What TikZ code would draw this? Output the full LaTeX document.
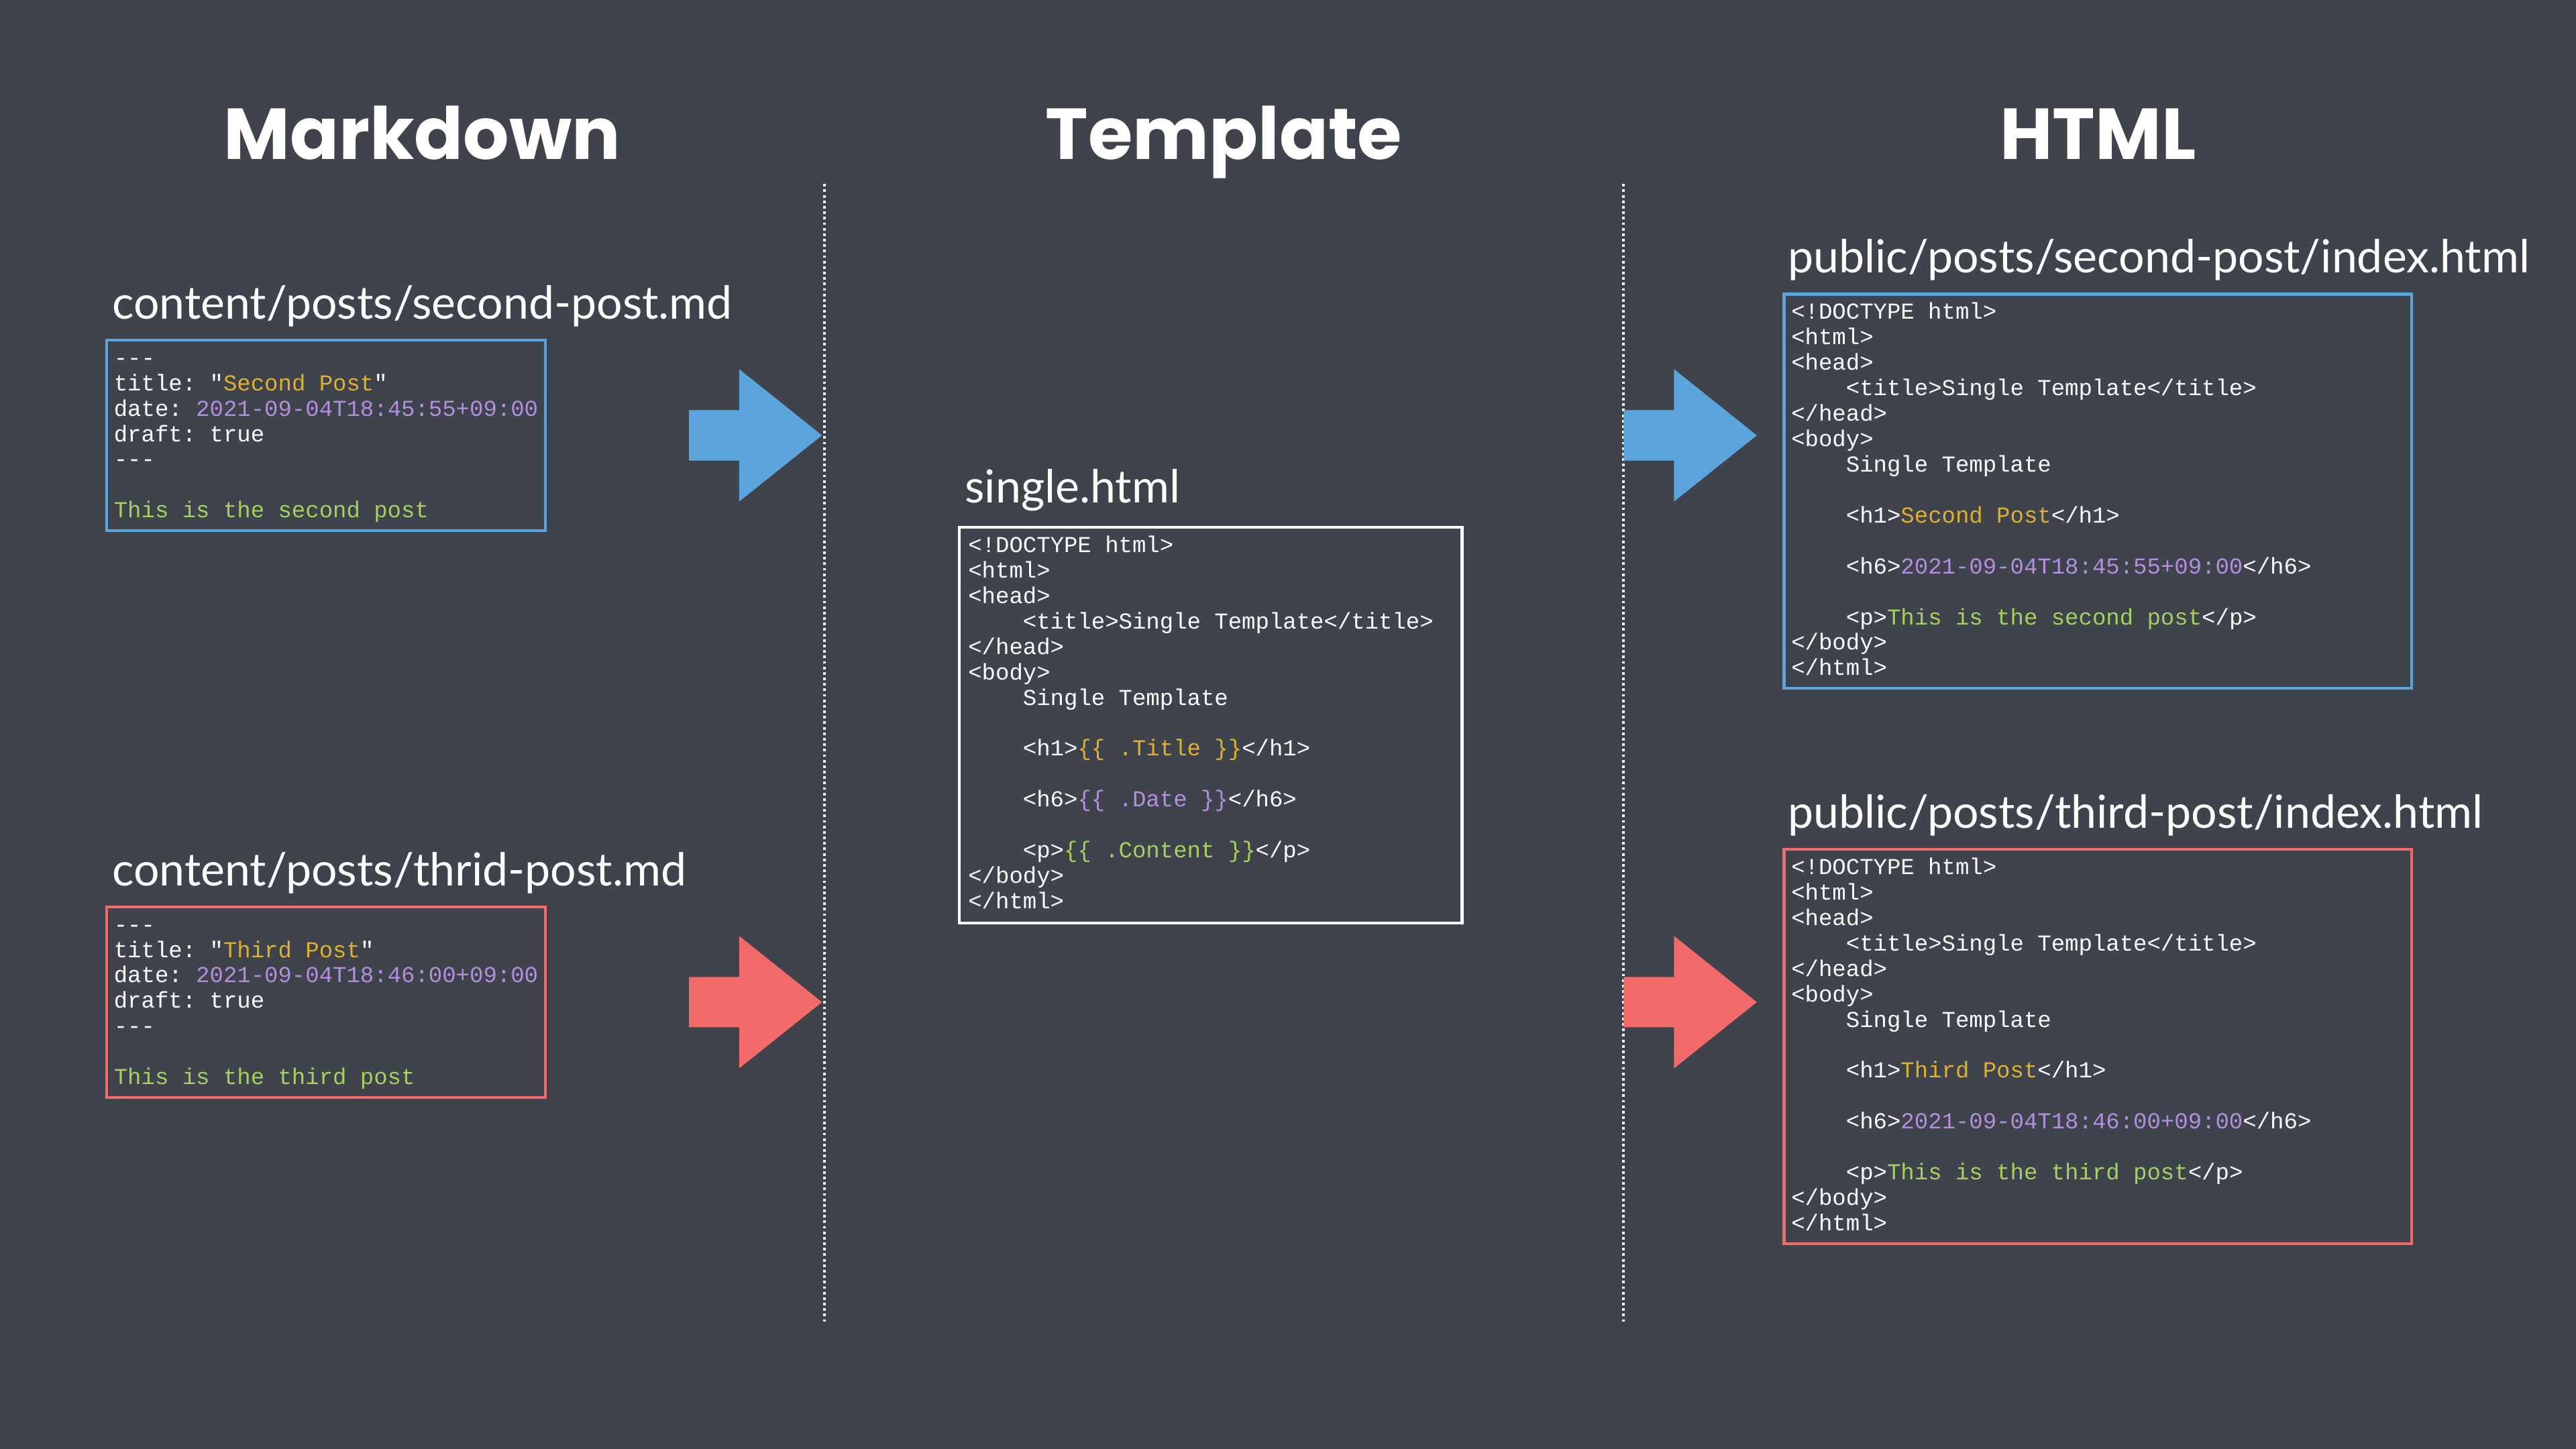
\documentclass[tikz,border=0pt]{standalone}
\usepackage{fontspec}
\setmainfont{Lato}
\setmonofont{Liberation Mono}
\usetikzlibrary{shapes.arrows}
\definecolor{board}{HTML}{3E434C}
\definecolor{mdblue}{HTML}{5BA4DC}
\definecolor{mdred}{HTML}{F26A6A}
\definecolor{cyel}{HTML}{E0B030}
\definecolor{cpur}{HTML}{B48EE0}
\definecolor{cgrn}{HTML}{A6D060}
\newcommand{\cy}[1]{\textcolor{cyel}{#1}}
\newcommand{\cp}[1]{\textcolor{cpur}{#1}}
\newcommand{\cg}[1]{\textcolor{cgrn}{#1}}
\newcommand{\ind}{\hspace*{4\fontcharwd\font`0}}

\begin{document}
\begin{tikzpicture}[
    x=0.02cm, y=-0.02cm,
    title/.style={text=white, font=\fontspec{Poppins}\bfseries\fontsize{25}{25}\selectfont, anchor=base},
    fname/.style={text=white, font=\fontsize{15.8}{17}\selectfont, anchor=base west, inner sep=0pt},
    codetext/.style={text=white, font=\ttfamily\fontsize{7.9}{8.82}\selectfont, align=left, anchor=north west, inner sep=0pt},
    codebox/.style={draw, line width=1pt},
    divider/.style={white, densely dotted, line width=0.9pt},
    flow/.style={single arrow, minimum width=1.6cm, minimum height=1.62cm, inner sep=0.3cm,
        single arrow head extend=0.5cm, single arrow tip angle=77.3, anchor=west}
]
    % Background
    \fill[board] (0,0) rectangle (1568,882);
    \useasboundingbox (0,0) rectangle (1568,882);

    % Column titles
    \node[title] (tmd) at (257,97) {Markdown};
    \node[title] (ttpl) at (745,97) {Template};
    \node[title] (thtml) at (1277,97) {HTML};

    % Dividers
    \coordinate (d1top) at (502,112);
    \coordinate (d1bot) at (502,805);
    \coordinate (d2top) at (988,112);
    \coordinate (d2bot) at (988,805);
    \draw[divider] (d1top) -- (d1bot);
    \draw[divider] (d2top) -- (d2bot);

    % Markdown - second post
    \node[fname] (fmd1) at (68,194) {content/posts/second-post.md};
    \draw[codebox, mdblue] (65,207) rectangle (332,323);
    \node[codetext] (cmd1) at (69,211) {\strut---\\
title: "\cy{Second Post}"\\
date: \cp{2021-09-04T18:45:55+09:00}\\
draft: true\\
---\\[8.82pt]
\cg{This is the second post}};

    % Markdown - third post
    \node[fname] (fmd2) at (68,539) {content/posts/thrid-post.md};
    \draw[codebox, mdred] (65,552) rectangle (332,668);
    \node[codetext] (cmd2) at (69,556) {\strut---\\
title: "\cy{Third Post}"\\
date: \cp{2021-09-04T18:46:00+09:00}\\
draft: true\\
---\\[8.82pt]
\cg{This is the third post}};

    % Template
    \node[fname] (ftpl) at (587,306) {single.html};
    \draw[codebox, white] (584,321) rectangle (890,562);
    \node[codetext] (ctpl) at (589,325) {\strut<!DOCTYPE html>\\
<html>\\
<head>\\
\ind<title>Single Template</title>\\
</head>\\
<body>\\
\ind Single Template\\[8.82pt]
\ind<h1>\cy{\{\{ .Title \}\}}</h1>\\[8.82pt]
\ind<h6>\cp{\{\{ .Date \}\}}</h6>\\[8.82pt]
\ind<p>\cg{\{\{ .Content \}\}}</p>\\
</body>\\
</html>};

    % HTML - second post
    \node[fname] (fhtml1) at (1088,166) {public/posts/second-post/index.html};
    \draw[codebox, mdblue] (1086,179) rectangle (1468,419);
    \node[codetext] (chtml1) at (1090,183) {\strut<!DOCTYPE html>\\
<html>\\
<head>\\
\ind<title>Single Template</title>\\
</head>\\
<body>\\
\ind Single Template\\[8.82pt]
\ind<h1>\cy{Second Post}</h1>\\[8.82pt]
\ind<h6>\cp{2021-09-04T18:45:55+09:00}</h6>\\[8.82pt]
\ind<p>\cg{This is the second post}</p>\\
</body>\\
</html>};

    % HTML - third post
    \node[fname] (fhtml2) at (1088,504) {public/posts/third-post/index.html};
    \draw[codebox, mdred] (1086,517) rectangle (1468,757);
    \node[codetext] (chtml2) at (1090,521) {\strut<!DOCTYPE html>\\
<html>\\
<head>\\
\ind<title>Single Template</title>\\
</head>\\
<body>\\
\ind Single Template\\[8.82pt]
\ind<h1>\cy{Third Post}</h1>\\[8.82pt]
\ind<h6>\cp{2021-09-04T18:46:00+09:00}</h6>\\[8.82pt]
\ind<p>\cg{This is the third post}</p>\\
</body>\\
</html>};

    % Flow arrows
    \node[flow, fill=mdblue] (a1) at (419,265) {};
    \node[flow, fill=mdred] (a2) at (419,610) {};
    \node[flow, fill=mdblue] (a3) at (988,265) {};
    \node[flow, fill=mdred] (a4) at (988,610) {};
\end{tikzpicture}
\end{document}
